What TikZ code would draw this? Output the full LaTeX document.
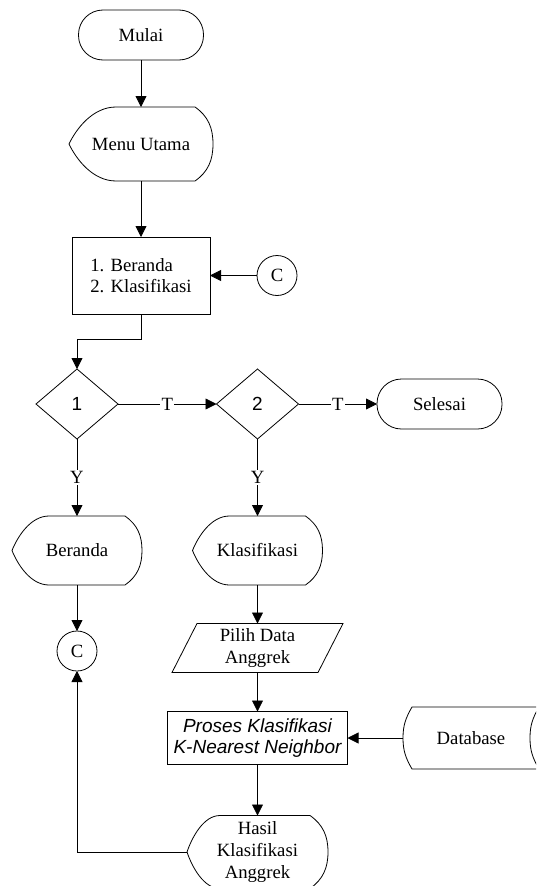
\documentclass[tikz,border=0pt]{standalone}
\usepackage{fontspec}
\setmainfont{Liberation Serif}
\setsansfont{Liberation Sans}
\usetikzlibrary{arrows.meta,shapes.geometric,calc}
\tikzset{
  base/.style={inner sep=0pt, outer sep=0pt, font=\fontsize{18.7}{21.7}\selectfont, align=center},
  term/.style={base, draw, rounded corners=24.5pt, minimum width=125pt, minimum height=50pt},
  boxn/.style={base, draw, rectangle},
  dec/.style={base, draw, diamond, minimum width=82pt, minimum height=70pt, font=\sffamily\fontsize{19}{22}\selectfont},
  conn/.style={base, draw, circle, minimum size=40pt},
  arr/.style={-{Triangle[length=11pt,width=11pt]}},
  lbl/.style={base, fill=white, inner sep=1.5pt}
}
\newcommand\dispshape[3]{%
  \draw let \p1=(#1.north west), \p2=(#1.south east) in
    ({\x1+#2pt},\y1) -- ({\x2-#3pt},\y1)
    to[out=-35,in=90] (\x2,{(\y1+\y2)/2})
    to[out=-90,in=35] ({\x2-#3pt},\y2)
    -- ({\x1+#2pt},\y2)
    .. controls ({\x1+0.5*#2pt},\y2) and ({\x1+0.15*#2pt},{0.3*\y1+0.7*\y2}) .. (\x1,{(\y1+\y2)/2})
    .. controls ({\x1+0.15*#2pt},{0.7*\y1+0.3*\y2}) and ({\x1+0.5*#2pt},\y1) .. cycle;
}
\begin{document}
\begin{tikzpicture}[x=1pt,y=-1pt,line width=0.8pt]
\clip (0,0) rectangle (536,886);
% nodes
\node[term] (mulai) at (141,35) {Mulai};
\node[base, minimum width=144pt, minimum height=74pt] (menu) at (141,144) {Menu Utama};
\node[boxn, minimum width=138pt, minimum height=77pt, align=left] (pilihan) at (141,275.5) {1. Beranda\\2. Klasifikasi};
\node[conn] (cR) at (277,275.5) {C};
\node[dec] (d1) at (77,404) {1};
\node[dec] (d2) at (257.5,404) {2};
\node[term] (selesai) at (439.5,404) {Selesai};
\node[base, minimum width=130pt, minimum height=69pt] (beranda) at (77,550.5) {Beranda};
\node[base, minimum width=130pt, minimum height=69pt] (klas) at (257.5,550.5) {Klasifikasi};
\node[conn] (cL) at (77,651) {C};
\node[base, minimum width=146pt, minimum height=49pt] (pilih) at (257.5,648) {Pilih Data\\Anggrek};
\node[boxn, minimum width=180pt, minimum height=53pt, font=\sffamily\itshape\fontsize{19}{21.7}\selectfont] (proses) at (257.5,738) {Proses Klasifikasi\\K-Nearest Neighbor};
\node[base, minimum width=136pt, minimum height=62pt] (db) at (471,738) {Database};
\node[base, minimum width=141pt, minimum height=73pt] (hasil) at (257.5,852) {Hasil\\Klasifikasi\\Anggrek};
% outlines
\dispshape{menu}{47}{18}
\dispshape{beranda}{37}{17}
\dispshape{klas}{37}{17}
\dispshape{hasil}{33}{18}
\draw let \p1=(pilih.north west), \p2=(pilih.south east) in
  ({\x1+12.5pt},\y1) -- ({\x2+12.5pt},\y1) -- ({\x2-12.5pt},\y2) -- ({\x1-12.5pt},\y2) -- cycle;
\draw let \p1=(db.north west), \p2=(db.south east) in
  ({\x1+9pt},\y1) -- (\x2,\y1)
  to[out=-120,in=90] ({\x2-9pt},{(\y1+\y2)/2})
  to[out=-90,in=120] (\x2,\y2)
  -- ({\x1+9pt},\y2)
  to[out=120,in=-90] (\x1,{(\y1+\y2)/2})
  to[out=90,in=-120] cycle;
% connectors
\draw[arr] (mulai.south) -- (menu.north);
\draw[arr] (menu.south) -- (pilihan.north);
\draw[arr] (cR.west) -- (pilihan.east);
\draw[arr] (pilihan.south) -- ++(0,25) -| (d1.north);
\draw[arr] (d1.east) -- node[lbl]{T} (d2.west);
\draw[arr] (d2.east) -- node[lbl]{T} (selesai.west);
\draw[arr] (d1.south) -- node[lbl]{Y} (beranda.north);
\draw[arr] (d2.south) -- node[lbl]{Y} (klas.north);
\draw[arr] (beranda.south) -- (cL.north);
\draw[arr] (klas.south) -- (pilih.north);
\draw[arr] (pilih.south) -- (proses.north);
\draw[arr] (db.west) -- (proses.east);
\draw[arr] (proses.south) -- (hasil.north);
\draw[arr] (hasil.west) -| (cL.south);
\end{tikzpicture}
\end{document}
